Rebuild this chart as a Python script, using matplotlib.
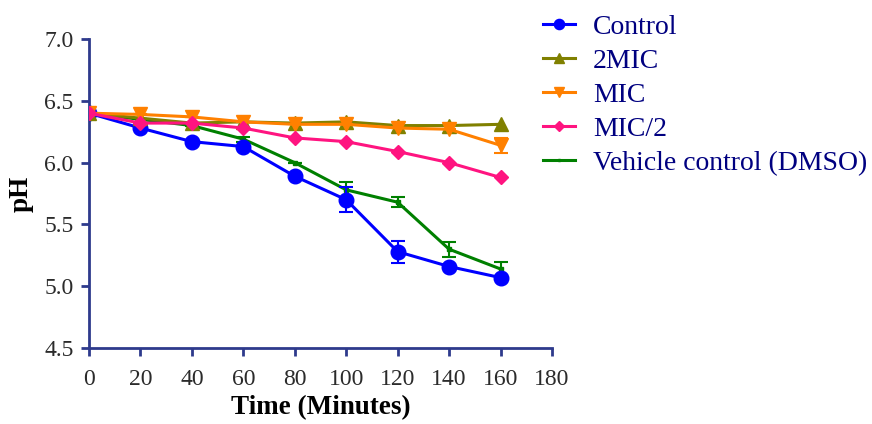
import matplotlib.pyplot as plt
from matplotlib.lines import Line2D

plt.rcParams['font.family'] = ['Liberation Serif', 'DejaVu Serif']

time = [0, 20, 40, 60, 80, 100, 120, 140, 160]

control = [6.40, 6.28, 6.17, 6.13, 5.89, 5.70, 5.28, 5.16, 5.07]
control_err = [0, 0, 0, 0, 0, 0.10, 0.09, 0, 0]
mic2x = [6.40, 6.36, 6.32, 6.33, 6.32, 6.33, 6.30, 6.30, 6.31]
mic = [6.40, 6.39, 6.37, 6.33, 6.31, 6.31, 6.28, 6.27, 6.14]
mic_err = [0, 0, 0, 0, 0, 0, 0, 0, 0.06]
mic_half = [6.40, 6.32, 6.32, 6.28, 6.20, 6.17, 6.09, 6.00, 5.88]
dmso = [6.40, 6.35, 6.30, 6.19, 6.00, 5.78, 5.68, 5.30, 5.14]
dmso_err = [0, 0, 0, 0.02, 0, 0.06, 0.04, 0.06, 0.06]

labels = ['Control', '2MIC', 'MIC', 'MIC/2', 'Vehicle control (DMSO)']
spine_col = '#2e3a8c'

fig = plt.figure(figsize=(8.72, 4.24), dpi=100)
ax = fig.add_axes([0.102, 0.179, 0.531, 0.729])

# series: values, errors, colour, marker, size, zorder
series = [
    (control, control_err, '#0000ff', 'o', 10.5, 3),
    (mic2x, None, '#808000', '^', 9.5, 4),
    (mic, mic_err, '#ff8000', 'v', 9.5, 5),
    (mic_half, None, '#ff1480', 'D', 7, 6),
    (dmso, dmso_err, '#008000', 's', 2.5, 2),
]

handles = []
for (vals, err, col, mk, ms, z), lab in zip(series, labels):
    ax.errorbar(time, vals, yerr=err, color=col, marker=mk, markersize=ms,
                linewidth=2.2, elinewidth=1.5, capsize=5, capthick=1.5,
                zorder=z)
    handles.append(Line2D([], [], color=col, marker=mk, markersize=ms * 0.7,
                          linewidth=2.2, label=lab))

ax.set_xlim(0, 180)
ax.set_ylim(4.5, 7.0)
ax.set_xticks(range(0, 181, 20))
ax.set_yticks([4.5, 5.0, 5.5, 6.0, 6.5, 7.0])
ax.set_yticklabels(['4.5', '5.0', '5.5', '6.0', '6.5', '7.0'])

for side in ['top', 'right']:
    ax.spines[side].set_visible(False)
for side in ['left', 'bottom']:
    ax.spines[side].set_color(spine_col)
    ax.spines[side].set_linewidth(2)
ax.tick_params(direction='out', length=6, width=2, color=spine_col,
               labelsize=17, labelcolor='#2b2b2b', pad=5)
ax.tick_params(axis='x', pad=9)

ax.set_xlabel('Time (Minutes)', fontsize=19.5, fontweight='bold', labelpad=4)
ax.set_ylabel('pH', fontsize=19.5, fontweight='bold', labelpad=8)

leg = fig.legend(handles=handles, loc='upper left', bbox_to_anchor=(0.607, 0.999),
                 frameon=False, fontsize=20, handlelength=1.15, labelspacing=0.31,
                 handletextpad=0.65, borderpad=0)
for t in leg.get_texts():
    t.set_color('#000080')

fig.savefig('out.png', dpi=100)
